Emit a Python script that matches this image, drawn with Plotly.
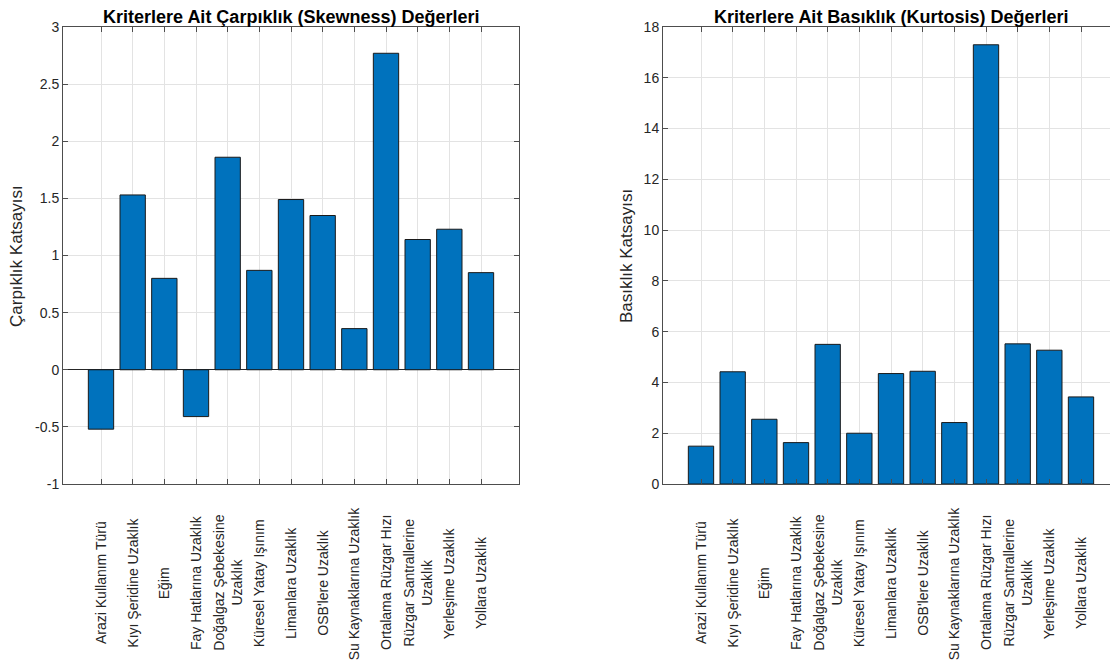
import plotly.graph_objects as go
from plotly.subplots import make_subplots

# kriter isimleri (eksen etiketleri)
categories = [
    "Arazi Kullanım Türü",
    "Kıyı Şeridine Uzaklık",
    "Eğim",
    "Fay Hatlarına Uzaklık",
    "Doğalgaz Şebekesine<br>Uzaklık",
    "Küresel Yatay Işınım",
    "Limanlara Uzaklık",
    "OSB'lere Uzaklık",
    "Su Kaynaklarına Uzaklık",
    "Ortalama Rüzgar Hızı",
    "Rüzgar Santrallerine<br>Uzaklık",
    "Yerleşime Uzaklık",
    "Yollara Uzaklık",
]
skewness = [-0.52, 1.53, 0.80, -0.41, 1.86, 0.87, 1.49, 1.35, 0.36, 2.77, 1.14, 1.23, 0.85]
kurtosis = [1.49, 4.42, 2.55, 1.63, 5.50, 2.00, 4.35, 4.44, 2.42, 17.30, 5.52, 5.27, 3.43]

skew_ticks = [-1, -0.5, 0, 0.5, 1, 1.5, 2, 2.5, 3]
skew_ticktext = ["-1", "-0.5", "0", "0.5", "1", "1.5", "2", "2.5", "3"]
kurt_ticks = [0, 2, 4, 6, 8, 10, 12, 14, 16, 18]

W, H = 1118, 668
OFF = 8  # sayfa govdesinin kenar boslugu
FW, FH = W - OFF, H - OFF
FONT = "Liberation Sans, Arial, sans-serif"
BAR_COLOR = "#0072BD"
AX_COLOR = "#4d4d4d"
TXT_COLOR = "#262626"


def px(x):
    return (x - OFF) / FW


def py(y):
    return (FH - (y - OFF)) / FH


x_pos = list(range(1, len(categories) + 1))

fig = make_subplots(rows=1, cols=2)

fig.add_trace(go.Bar(x=x_pos, y=skewness, width=0.8, marker_color=BAR_COLOR,
                     marker_line=dict(color="#1a1a1a", width=1), showlegend=False), row=1, col=1)
fig.add_trace(go.Bar(x=x_pos, y=kurtosis, width=0.8, marker_color=BAR_COLOR,
                     marker_line=dict(color="#1a1a1a", width=1), showlegend=False), row=1, col=2)

# eksen kutulari (piksel -> paper)
y_dom = [py(484), py(27)]
left_dom = [px(63), px(519)]
right_dom = [px(663), 1.0]

axis_common = dict(showline=True, linecolor=AX_COLOR, linewidth=1, mirror="ticks",
                   ticks="inside", ticklen=5, tickcolor=AX_COLOR, automargin=False,
                   showgrid=True, gridcolor="#e3e3e3", gridwidth=1,
                   tickfont=dict(family=FONT, size=14, color=TXT_COLOR))

n = len(categories)
fig.update_xaxes(axis_common, tickvals=x_pos, showticklabels=False, zeroline=False)
fig.update_xaxes(domain=left_dom, range=[-0.2, n + 1.2], row=1, col=1)
fig.update_xaxes(domain=right_dom, range=[-0.2, n + 1.2 - 1 / 31.6], row=1, col=2)

fig.update_yaxes(axis_common)
fig.update_yaxes(domain=y_dom, range=[-1, 3], tickvals=skew_ticks, ticktext=skew_ticktext,
                 zeroline=True, zerolinecolor=TXT_COLOR, zerolinewidth=1, row=1, col=1)
fig.update_yaxes(domain=y_dom, range=[0, 18], tickvals=kurt_ticks, zeroline=False, row=1, col=2)

annotations = []
# kategori etiketleri: dikey, ortalanmis
for xref in ["x", "x2"]:
    for xp, name in zip(x_pos, categories):
        annotations.append(dict(x=xp, xref=xref, y=py(583), yref="paper",
                                xanchor="center", yanchor="middle",
                                text=name, textangle=-90, showarrow=False, align="center",
                                font=dict(family=FONT, size=14, color=TXT_COLOR)))

titles = ["Kriterlere Ait Çarpıklık (Skewness) Değerleri",
          "Kriterlere Ait Basıklık (Kurtosis) Değerleri"]
ylabels = ["Çarpıklık Katsayısı", "Basıklık Katsayısı"]
for cx, title, ylab, ylab_x in zip([291, 891], titles, ylabels, [17, 627]):
    annotations.append(dict(x=px(cx), xref="paper", y=py(17), yref="paper",
                            xanchor="center", yanchor="middle",
                            text="<b>" + title + "</b>", showarrow=False,
                            font=dict(family=FONT, size=18, color="black")))
    annotations.append(dict(x=px(ylab_x), xref="paper", y=py(256), yref="paper",
                            xanchor="center", yanchor="middle",
                            text=ylab, textangle=-90, showarrow=False,
                            font=dict(family=FONT, size=17, color=TXT_COLOR)))

fig.update_layout(width=FW, height=FH, margin=dict(l=0, r=0, t=0, b=0, autoexpand=False),
                  paper_bgcolor="white", plot_bgcolor="white",
                  bargap=0.2, annotations=annotations)

fig.write_html("out.html")
